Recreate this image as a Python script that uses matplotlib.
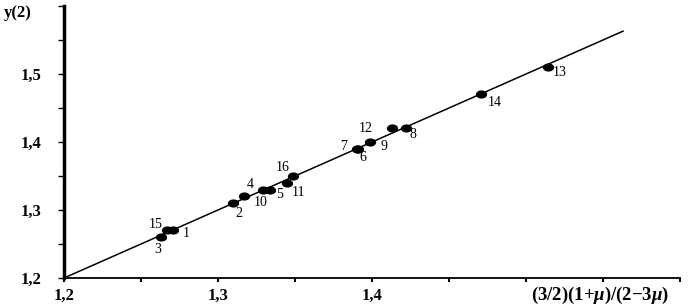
import matplotlib
matplotlib.use("Agg")
import matplotlib.pyplot as plt
from matplotlib.markers import MarkerStyle
from matplotlib.path import Path
from matplotlib.transforms import Affine2D

plt.rcParams.update({
    "font.family": ["Liberation Serif", "DejaVu Serif"],
    "mathtext.fontset": "custom",
    "mathtext.it": "Liberation Serif:italic:bold",
    "mathtext.rm": "Liberation Serif:bold",
})

# point labels, x = (3/2)(1+mu)/(2-3mu), y = y(2)
LABELS = ["1", "2", "3", "4", "5", "6", "7", "8",
          "9", "10", "11", "12", "13", "14", "15", "16"]
X_VALS = [1.271, 1.310, 1.263, 1.329, 1.334, 1.391, 1.390, 1.422,
          1.399, 1.317, 1.345, 1.413, 1.514, 1.471, 1.267, 1.349]
Y_VALS = [1.270, 1.310, 1.260, 1.330, 1.330, 1.390, 1.390, 1.420,
          1.400, 1.320, 1.340, 1.420, 1.510, 1.470, 1.270, 1.350]

# y = x reference line endpoints
LINE_X = [1.2, 1.563]
LINE_Y = [1.2, 1.563]

# label offsets in pixels (dx, dy)
OFFSETS = {
    "1": (13, -3), "2": (5, -10), "3": (-3, -12), "4": (-12, 5),
    "5": (9, -5), "6": (5, -9), "7": (-13, 2), "8": (7, -6),
    "9": (14, -5), "10": (16, -6), "11": (11, -10), "12": (-26, 0),
    "13": (12, -5), "14": (13, -8), "15": (-12, 6), "16": (-11, 8),
}

fig = plt.figure(figsize=(7.0, 3.06), dpi=100)
ax = fig.add_axes([64 / 700, 28 / 306, 616 / 700, 272 / 306])

ax.plot(LINE_X, LINE_Y, color="black", lw=1.1)

ell = MarkerStyle(Path.unit_circle().transformed(Affine2D().scale(1.45, 1.0)))
ax.scatter(X_VALS, Y_VALS, marker=ell, s=50, color="black", zorder=3)

for lab, x, y in zip(LABELS, X_VALS, Y_VALS):
    dx, dy = OFFSETS[lab]
    ax.annotate(lab, (x, y), xytext=(dx, dy), textcoords="offset pixels",
                ha="center", va="center", fontsize=10)

ax.set_xlim(1.2, 1.6)
ax.set_ylim(1.2, 1.6)
ax.set_xticks([1.2, 1.25, 1.3, 1.35, 1.4, 1.45, 1.5, 1.55, 1.6])
ax.set_xticklabels(["1,2", "", "1,3", "", "1,4", "", "", "", ""])
ax.set_yticks([1.2, 1.25, 1.3, 1.35, 1.4, 1.45, 1.5, 1.55, 1.6])
ax.set_yticklabels(["1,2", "", "1,3", "", "1,4", "", "1,5", "", ""])
for t in ax.get_xticklabels() + ax.get_yticklabels():
    t.set_fontweight("bold")
    t.set_fontsize(12)
ax.tick_params(axis="x", length=3, width=1.5, pad=4, direction="out")
ax.tick_params(axis="y", length=4, width=1, pad=12, direction="out")

ax.spines["top"].set_visible(False)
ax.spines["right"].set_visible(False)
ax.spines["left"].set_linewidth(2.5)
ax.spines["bottom"].set_linewidth(1.3)

fig.text(4 / 700, 1 - 13 / 306, "y(2)", fontsize=12, fontweight="bold",
         ha="left", va="center")
fig.text(600 / 700, 1 - 295 / 306, r"(3/2)(1+$\mu$)/(2$-$3$\mu$)",
         fontsize=13.5, fontweight="bold", ha="center", va="center")

fig.savefig("out.png", dpi=100)
